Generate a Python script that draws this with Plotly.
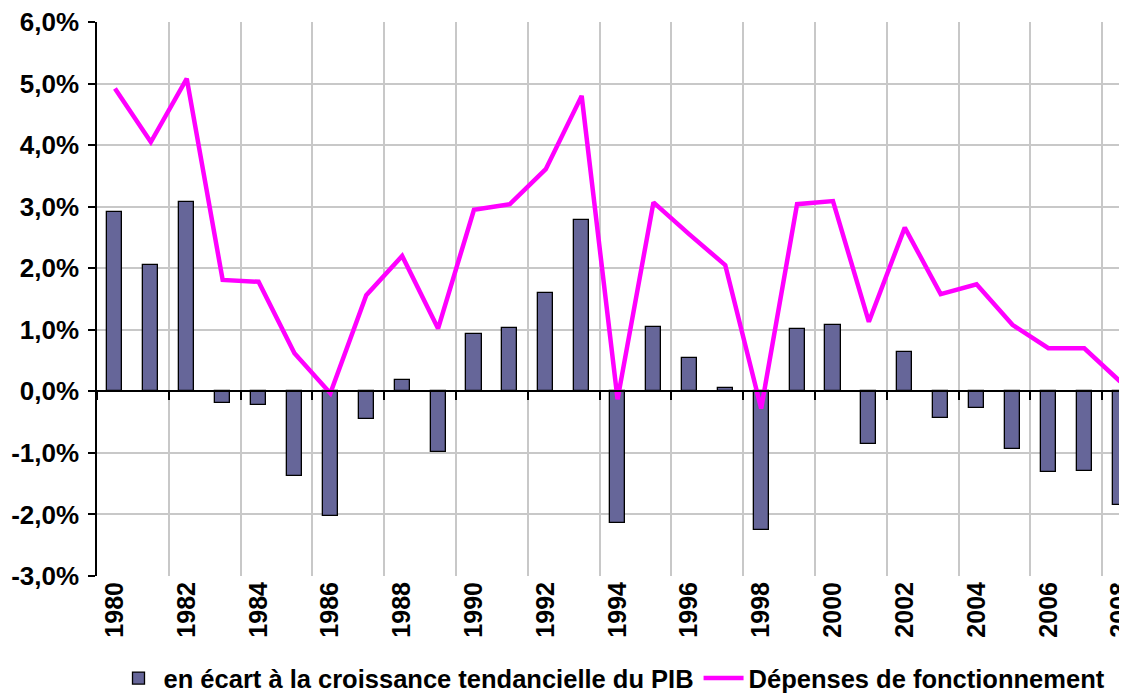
import plotly.graph_objects as go

years = list(range(1980, 2009))
ecart_pib = [2.92, 2.05, 3.08, -0.19, -0.23, -1.37, -2.03, -0.45, 0.18, -0.99,
             0.93, 1.03, 1.60, 2.79, -2.14, 1.05, 0.54, 0.05, -2.26, 1.02,
             1.07, -0.86, 0.64, -0.43, -0.27, -0.93, -1.31, -1.30, -1.85]
depenses = [4.92, 4.05, 5.08, 1.81, 1.78, 0.62, -0.03, 1.56, 2.20, 1.02,
            2.95, 3.04, 3.61, 4.80, -0.13, 3.07, 2.55, 2.05, -0.28, 3.04,
            3.09, 1.13, 2.66, 1.58, 1.74, 1.08, 0.70, 0.70, 0.16]
name_bar = "en écart à la croissance tendancielle du PIB"
name_line = "Dépenses de fonctionnement"
y_ticks = [-3, -2, -1, 0, 1, 2, 3, 4, 5, 6]
y_ticktext = ["-3,0%", "-2,0%", "-1,0%", "0,0%", "1,0%", "2,0%", "3,0%", "4,0%", "5,0%", "6,0%"]
x_ticks = years[::2]
x_ticktext = [str(y) for y in x_ticks]

boundaries = [y - 0.5 for y in years]
grid_bounds = boundaries[::2]

FONT = "Arial, 'Liberation Sans', sans-serif"

fig = go.Figure()
fig.add_trace(go.Bar(
    x=years, y=ecart_pib, name=name_bar, width=0.42,
    marker=dict(color="#666699", line=dict(color="#000000", width=1.3)),
))
fig.add_trace(go.Scatter(
    x=years, y=depenses, name=name_line, mode="lines",
    line=dict(color="#FF00FF", width=4.5),
))
fig.add_trace(go.Scatter(x=[], y=[], xaxis="x2", yaxis="y", showlegend=False, hoverinfo="skip"))

xr = [1979.5, 2008.19]
# page body has an 8px margin: figure is sized/margined to compensate
fig.update_layout(
    width=1119, height=687,
    margin=dict(l=89, r=0, t=14, b=119, autoexpand=False),
    paper_bgcolor="white", plot_bgcolor="white",
    font=dict(family=FONT, color="black"),
    showlegend=True,
    legend=dict(orientation="h", x=0.5, xanchor="center", y=-0.185, yanchor="middle",
                font=dict(size=25.5, family=FONT, weight="bold"), itemwidth=40,
                tracegroupgap=0),
    bargap=0,
    xaxis=dict(
        range=xr, tickmode="array", tickvals=x_ticks, ticktext=x_ticktext,
        tickangle=-90, ticks="", showgrid=False, zeroline=False, showline=False,
        automargin=False, ticklabeloverflow="allow",
        tickfont=dict(size=25, family=FONT, weight="bold"),
        minor=dict(tickmode="array", tickvals=grid_bounds, showgrid=True,
                   gridcolor="#c8c8c8", gridwidth=1.5, ticks=""),
    ),
    xaxis2=dict(
        range=xr, overlaying="x", anchor="free", position=1/3, side="bottom",
        tickmode="array", tickvals=grid_bounds, ticks="outside", ticklen=8,
        tickwidth=1.5, tickcolor="black", showticklabels=False, automargin=False,
        showline=True, linecolor="black", linewidth=1.5, showgrid=False, zeroline=False,
    ),
    yaxis=dict(
        range=[-3, 6], tickmode="array", tickvals=y_ticks, ticktext=y_ticktext,
        ticks="outside", ticklen=7, tickwidth=1.5, tickcolor="black",
        showline=True, linecolor="black", linewidth=1.5, automargin=False,
        ticklabeloverflow="allow", ticklabelstandoff=4,
        showgrid=True, gridcolor="#c8c8c8", gridwidth=1.5, zeroline=False,
        tickfont=dict(size=26, family=FONT, weight="bold"),
    ),
)

fig.write_html("out.html")
